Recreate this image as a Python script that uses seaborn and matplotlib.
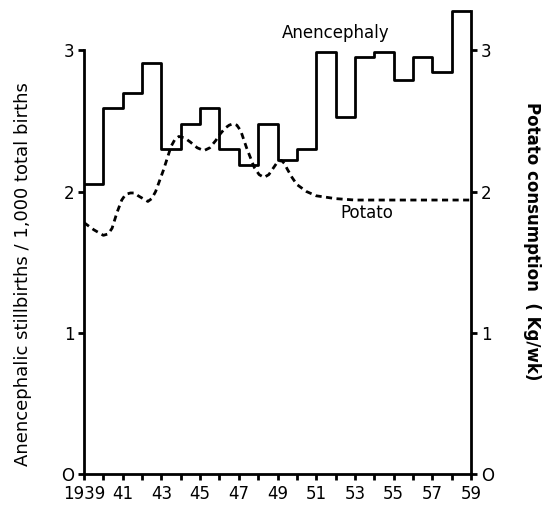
import seaborn as sns
import pandas as pd
from matplotlib import pyplot as plt

# anencephalic stillbirths per 1,000 total births, one value per year 1939..1958
ANEN_YEARS = list(range(1939, 1960))
ANEN_RATE = [2.05, 2.59, 2.70, 2.91, 2.30, 2.48, 2.59, 2.30, 2.19, 2.48,
             2.22, 2.30, 2.99, 2.53, 2.95, 2.99, 2.79, 2.95, 2.85, 3.28,
             3.28]

# potato consumption (Kg/wk)
POTATO_YEARS = [1939.0, 1939.5, 1940.0, 1940.25, 1940.45, 1940.7, 1940.95,
                1941.15, 1941.4, 1941.6, 1941.8, 1942.05, 1942.3, 1942.5,
                1942.7, 1943.1, 1943.5, 1943.7, 1943.9, 1944.2, 1944.5,
                1944.85, 1945.2, 1945.5, 1945.8, 1946.05, 1946.3, 1946.5,
                1946.7, 1946.9, 1947.1, 1947.4, 1947.8, 1948.05, 1948.3,
                1948.55, 1948.8, 1949.0, 1949.2, 1949.35, 1949.5, 1949.75,
                1950.0, 1950.5, 1951.0, 1951.5, 1952.0, 1953.0, 1955.0,
                1957.0, 1959.0]
POTATO_KG = [1.78, 1.73, 1.69, 1.70, 1.74, 1.85, 1.94,
             1.98, 1.99, 1.99, 1.97, 1.95, 1.93, 1.95,
             2.00, 2.15, 2.32, 2.37, 2.39, 2.38, 2.35,
             2.31, 2.29, 2.31, 2.36, 2.41, 2.45, 2.47,
             2.48, 2.47, 2.43, 2.31, 2.17, 2.12, 2.10,
             2.12, 2.17, 2.21, 2.22, 2.20, 2.16, 2.10,
             2.05, 2.00, 1.97, 1.96, 1.95, 1.94, 1.94,
             1.94, 1.94]

XTICKS = list(range(1939, 1960, 2))
XTICK_LABELS = ['1939'] + [str(y)[2:] for y in XTICKS[1:]]
YTICKS = [0, 1, 2, 3]
YTICK_LABELS = ['O', '1', '2', '3']

sns.set_style('ticks')
plt.rcParams['font.family'] = ['DejaVu Sans']
plt.rcParams['text.color'] = 'black'
plt.rcParams['axes.labelcolor'] = 'black'
plt.rcParams['axes.edgecolor'] = 'black'
plt.rcParams['xtick.color'] = 'black'
plt.rcParams['ytick.color'] = 'black'

anen = pd.DataFrame({'year': ANEN_YEARS, 'rate': ANEN_RATE})
potato = pd.DataFrame({'year': POTATO_YEARS, 'kg': POTATO_KG})

fig = plt.figure(figsize=(5.52, 5.05), dpi=100)
ax = fig.add_axes([0.1522, 0.0614, 0.7011, 0.9228])

sns.lineplot(data=anen, x='year', y='rate', ax=ax, color='black',
             linewidth=2.0, drawstyle='steps-post', estimator=None, sort=False)
sns.lineplot(data=potato, x='year', y='kg', ax=ax, color='black',
             linewidth=2.0, linestyle=(0, (2.2, 1.6)), estimator=None, sort=False)

ax.set_xlim(1939, 1959)
ax.set_ylim(0, 3.3)
ax.set_xticks(XTICKS)
ax.set_xticklabels(XTICK_LABELS)
ax.set_xticks(range(1939, 1960), minor=True)
ax.set_yticks(YTICKS)
ax.set_yticklabels(YTICK_LABELS)
ax.tick_params(axis='both', which='both', direction='out', length=4,
               width=2, labelsize=12, pad=3)
ax.tick_params(axis='x', which='major', pad=4)

ax.spines['top'].set_visible(False)
ax.spines['right'].set_visible(False)
ax.spines['left'].set_bounds(0, 3)
for s in ['left', 'bottom']:
    ax.spines[s].set_linewidth(2.0)

ax.set_xlabel('')
ax.set_ylabel('Anencephalic stillbirths / 1,000 total births', fontsize=13)
ax.yaxis.set_label_coords(-0.135, 0.43)

ax2 = ax.twinx()
ax2.set_ylim(0, 3.3)
ax2.set_yticks(YTICKS)
ax2.set_yticklabels(YTICK_LABELS)
ax2.tick_params(axis='y', direction='out', length=4, width=2,
                labelsize=12, pad=3)
for s in ['top', 'left', 'bottom']:
    ax2.spines[s].set_visible(False)
ax2.spines['right'].set_bounds(0, ANEN_RATE[-1])
ax2.spines['right'].set_linewidth(2.0)
ax2.set_ylabel('Potato consumption  ( Kg/wk)', fontsize=12, rotation=270,
               labelpad=34, fontweight='bold')

ax.text(1952.0, 3.12, 'Anencephaly', fontsize=12, ha='center', va='center')
ax.text(1953.6, 1.85, 'Potato', fontsize=12, ha='center', va='center')

fig.savefig('out.png', dpi=100)
